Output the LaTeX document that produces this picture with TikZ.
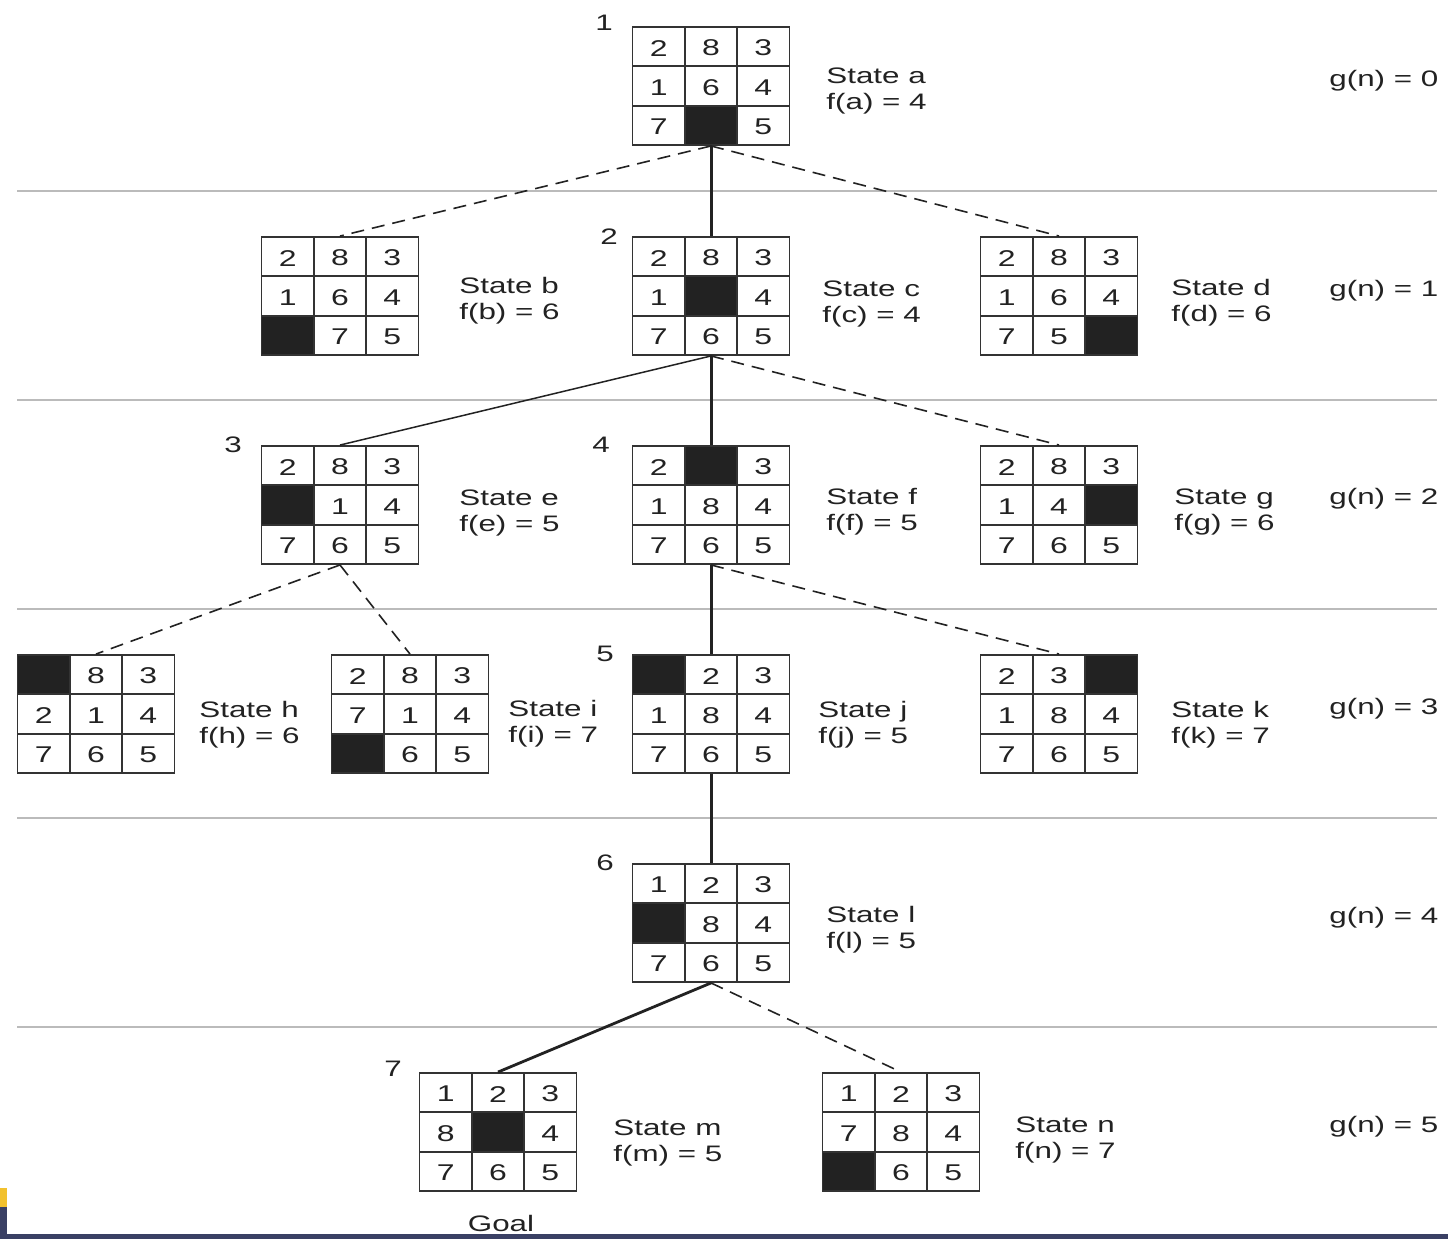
\documentclass[tikz,border=0pt]{standalone}
\usepackage{fontspec}
\setmainfont{Liberation Sans}[FakeStretch=1.4]
\definecolor{ink}{HTML}{222222}
\definecolor{gridink}{HTML}{333333}
\definecolor{sepgray}{HTML}{BBBBBB}
\definecolor{barblue}{HTML}{3A4064}
\definecolor{baryellow}{HTML}{F2C12E}
\newcommand{\puz}[4]{%
  \foreach \v [count=\i from 0] in {#4} {%
    \pgfmathtruncatemacro\rr{floor(\i/3)}%
    \pgfmathtruncatemacro\cc{\i-3*\rr}%
    \pgfmathsetmacro\px{#2+(\cc-1)*52.333}%
    \pgfmathsetmacro\py{#3+(\rr-1)*39.333}%
    \ifnum\v=0
      \fill[cellfill] (\px-26.17,\py-19.67) rectangle (\px+26.17,\py+19.67);
    \else
      \node[digit] at (\px,\py) {\v};
    \fi
  }%
  \node[pbox] (#1) at (#2,#3) {};
  \draw[gridline] (#2-26.17,#3-59) -- (#2-26.17,#3+59)
                  (#2+26.17,#3-59) -- (#2+26.17,#3+59)
                  (#2-78.5,#3-19.67) -- (#2+78.5,#3-19.67)
                  (#2-78.5,#3+19.67) -- (#2+78.5,#3+19.67);
}
\begin{document}
\begin{tikzpicture}[x=0.5pt,y=-0.5pt,
  pbox/.style={draw=gridink,line width=0.95pt,minimum width=78.5pt,minimum height=59pt,inner sep=0pt},
  gridline/.style={draw=gridink,line width=0.95pt},
  cellfill/.style={fill=ink},
  digit/.style={text=ink,font=\fontsize{11.4}{13}\selectfont,inner sep=0pt,yshift=-0.7pt},
  lab/.style={text=ink,font=\fontsize{11.2}{13}\selectfont,inner sep=0pt,anchor=west,align=left,yshift=-1.4pt},
  num/.style={text=ink,font=\fontsize{11.2}{13}\selectfont,inner sep=0pt,yshift=-0.6pt},
  sepline/.style={draw=sepgray,line width=0.8pt},
  solidedge/.style={draw=ink,line width=1.5pt},
  thinedge/.style={draw=ink,line width=0.75pt},
  thickedge/.style={draw=ink,line width=1.4pt},
  dashedge/.style={draw=ink,line width=0.8pt,dash pattern=on 6.5pt off 4pt}]
\useasboundingbox (0,0) rectangle (1448,1239);
\fill[white] (0,0) rectangle (1448,1239);
% separators
\foreach \yy in {191,400,609,818,1027} \draw[sepline] (17,\yy) -- (1437,\yy);
% puzzles
\puz{a}{711}{86}{2,8,3,1,6,4,7,0,5}
\puz{b}{340}{296}{2,8,3,1,6,4,0,7,5}
\puz{c}{711}{296}{2,8,3,1,0,4,7,6,5}
\puz{d}{1059}{296}{2,8,3,1,6,4,7,5,0}
\puz{e}{340}{505}{2,8,3,0,1,4,7,6,5}
\puz{f}{711}{505}{2,0,3,1,8,4,7,6,5}
\puz{g}{1059}{505}{2,8,3,1,4,0,7,6,5}
\puz{h}{96}{714}{0,8,3,2,1,4,7,6,5}
\puz{i}{410}{714}{2,8,3,7,1,4,0,6,5}
\puz{j}{711}{714}{0,2,3,1,8,4,7,6,5}
\puz{k}{1059}{714}{2,3,0,1,8,4,7,6,5}
\puz{l}{711}{923}{1,2,3,0,8,4,7,6,5}
\puz{m}{498}{1132}{1,2,3,8,0,4,7,6,5}
\puz{n}{901}{1132}{1,2,3,7,8,4,0,6,5}
% edges
\draw[dashedge] (a.south) -- (b.north);
\draw[solidedge] (a.south) -- (c.north);
\draw[dashedge] (a.south) -- (d.north);
\draw[thinedge] (c.south) -- (e.north);
\draw[solidedge] (c.south) -- (f.north);
\draw[dashedge] (c.south) -- (g.north);
\draw[dashedge] (e.south) -- (h.north);
\draw[dashedge] (e.south) -- (i.north);
\draw[solidedge] (f.south) -- (j.north);
\draw[dashedge] (f.south) -- (k.north);
\draw[solidedge] (j.south) -- (l.north);
\draw[thickedge] (l.south) -- (m.north);
\draw[dashedge] (l.south) -- (n.north);
% state labels
\node[lab] (la) at (826,88) {State a\\f(a) = 4};
\node[lab] (lb) at (459,298) {State b\\f(b) = 6};
\node[lab] (lc) at (822,301) {State c\\f(c) = 4};
\node[lab] (ld) at (1171,300) {State d\\f(d) = 6};
\node[lab] (le) at (459,510) {State e\\f(e) = 5};
\node[lab] (lf) at (826,509) {State f\\f(f) = 5};
\node[lab] (lg) at (1174,509) {State g\\f(g) = 6};
\node[lab] (lh) at (199,722) {State h\\f(h) = 6};
\node[lab] (li) at (508,721) {State i\\f(i) = 7};
\node[lab] (lj) at (818,722) {State j\\f(j) = 5};
\node[lab] (lk) at (1171,722) {State k\\f(k) = 7};
\node[lab] (ll) at (826,927) {State l\\f(l) = 5};
\node[lab] (lm) at (613,1140) {State m\\f(m) = 5};
\node[lab] (ln) at (1015,1137) {State n\\f(n) = 7};
% g(n)
\node[lab] (g0) at (1329,78) {g(n) = 0};
\node[lab] (g1) at (1329,288) {g(n) = 1};
\node[lab] (g2) at (1329,496) {g(n) = 2};
\node[lab] (g3) at (1329,706) {g(n) = 3};
\node[lab] (g4) at (1329,915) {g(n) = 4};
\node[lab] (g5) at (1329,1124) {g(n) = 5};
% order numbers
\node[num] (n1) at (604,22) {1};
\node[num] (n2) at (609,235) {2};
\node[num] (n3) at (233,444) {3};
\node[num] (n4) at (601,444) {4};
\node[num] (n5) at (605,653) {5};
\node[num] (n6) at (605,862) {6};
\node[num] (n7) at (393,1068) {7};
\node[num] (goal) at (501,1222) {Goal};
% bottom bar
\fill[barblue] (7,1234) rectangle (1448,1239);
\fill[baryellow] (0,1188) rectangle (7,1207);
\fill[barblue] (0,1207) rectangle (7,1239);
\end{tikzpicture}
\end{document}
